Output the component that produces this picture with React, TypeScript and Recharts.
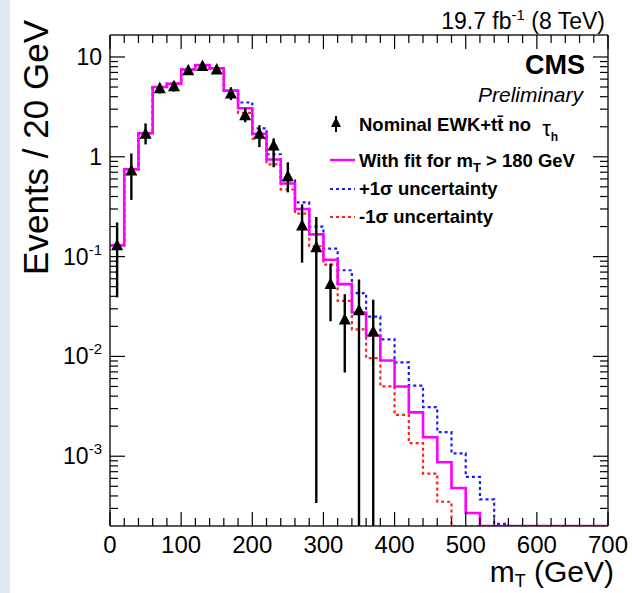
import { ComposedChart, Line, Scatter, XAxis, YAxis, ReferenceLine } from "recharts"

const WIDTH = 632
const HEIGHT = 593
const Y_MIN = 0.0002
const Y_MAX = 16.6
const FONT = "'Liberation Sans', Arial, Helvetica, sans-serif"

// 20 GeV bins, low edges
const binEdges = [
  0, 20, 40, 60, 80, 100, 120, 140, 160, 180, 200, 220, 240, 260, 280, 300, 320, 340,
  360, 380, 400, 420, 440, 460, 480, 500, 520, 540, 560, 580, 600, 620, 640, 660, 680,
]
const fitValues = [
  0.13, 0.75, 1.72, 5.0, 5.4, 7.5, 8.3, 7.7, 4.6, 3.06, 1.7, 0.94, 0.54, 0.3, 0.167, 0.093, 0.053, 0.0275,
  0.0162, 0.0091, 0.005, 0.00275, 0.00155, 0.00087, 0.00048, 0.00027, 0, 0, 0, 0, 0, 0, 0, 0, 0,
]
const upValues = [
  0.13, 0.75, 1.72, 5.0, 5.4, 7.5, 8.3, 7.7, 4.6, 3.5, 1.93, 1.06, 0.58, 0.35, 0.2, 0.12, 0.073, 0.043,
  0.025, 0.0148, 0.0087, 0.0051, 0.0031, 0.00174, 0.00107, 0.00062, 0.00037, 0.00021, 0, 0, 0, 0, 0, 0, 0,
]
const downValues = [
  0.13, 0.75, 1.72, 5.0, 5.4, 7.5, 8.3, 7.7, 4.6, 2.75, 1.52, 0.84, 0.47, 0.27, 0.127, 0.083, 0.036, 0.0187,
  0.0096, 0.005, 0.0026, 0.00135, 0.00067, 0.00035, 0, 0, 0, 0, 0, 0, 0, 0, 0, 0, 0,
]

// nominal points (bin centres) with error bar ends
const pointX = [10, 30, 50, 70, 90, 110, 130, 150, 170, 190, 210, 230, 250, 270, 290, 310, 330, 350, 370]
const pointY = [0.13, 0.73, 1.7, 4.85, 5.1, 7.35, 8.1, 7.5, 4.3, 2.6, 1.7, 1.3, 0.64, 0.205, 0.124, 0.053, 0.0235, 0.029, 0.0178]
const pointLo = [0.039, 0.37, 1.33, 4.3, 4.5, 6.7, 7.4, 6.8, 3.7, 2.22, 1.25, 0.785, 0.44, 0.087, 0.00034, 0.0225, 0.0069, 0, 0]
const pointHi = [0.22, 1.08, 2.16, 5.4, 5.7, 8.0, 8.8, 8.2, 4.97, 3.06, 2.07, 1.53, 0.88, 0.334, 0.25, 0.085, 0.042, 0.059, 0.037]

const xTicks = [
  0, 20, 40, 60, 80, 100, 120, 140, 160, 180, 200, 220, 240, 260, 280, 300, 320, 340, 360,
  380, 400, 420, 440, 460, 480, 500, 520, 540, 560, 580, 600, 620, 640, 660, 680, 700,
]
const xLabels = ["0", "100", "200", "300", "400", "500", "600", "700"]
const yDecades = [0.0001, 0.001, 0.01, 0.1, 1, 10]
const yMinorSteps = [1, 2, 3, 4, 5, 6, 7, 8, 9]

// empty bins sit on the bottom of the frame, like ROOT draws them
const floor = (v: number) => (v > Y_MIN ? v : Y_MIN)

const histData = binEdges.map((x, i) => ({
  x,
  fit: floor(fitValues[i]),
  up: floor(upValues[i]),
  down: floor(downValues[i]),
}))
const last = binEdges.length - 1
histData.push({ x: 700, fit: floor(fitValues[last]), up: floor(upValues[last]), down: floor(downValues[last]) })

const pointData = pointX.map((x, i) => ({ x, y: pointY[i], lo: floor(pointLo[i]), hi: pointHi[i] }))

const yTicks = yDecades
  .flatMap((d) => yMinorSteps.map((s) => +(d * s).toPrecision(3)))
  .filter((v) => v > Y_MIN * 1.01 && v < Y_MAX)

const isDecade = (v: number) => Math.abs(Math.log10(v) - Math.round(Math.log10(v))) < 1e-6

function LeftTick({ x, y, payload }: any) {
  const v = payload.value
  const major = isDecade(v)
  const e = Math.round(Math.log10(v))
  return (
    <g>
      <line x1={x} x2={x + (major ? 15 : 8)} y1={y} y2={y} stroke="#000" strokeWidth={1.2} />
      {major && (
        <text x={x - 8} y={y + 8} textAnchor="end" fontSize={23} fontFamily={FONT} fill="#000">
          {e === 0 ? "1" : "10"}
          {e < 0 && (
            <tspan dy={-10} fontSize={15}>
              {String(e)}
            </tspan>
          )}
        </text>
      )}
    </g>
  )
}

function RightTick({ x, y, payload }: any) {
  const major = isDecade(payload.value)
  return <line x1={x} x2={x - (major ? 15 : 8)} y1={y} y2={y} stroke="#000" strokeWidth={1.2} />
}

function BottomTick({ x, y, payload }: any) {
  const major = payload.value % 100 === 0
  return (
    <g>
      <line x1={x} x2={x} y1={y} y2={y - (major ? 14 : 8)} stroke="#000" strokeWidth={1.2} />
      {major && (
        <text x={x} y={y + 27} textAnchor="middle" fontSize={24} fontFamily={FONT} fill="#000">
          {xLabels[payload.value / 100]}
        </text>
      )}
    </g>
  )
}

function TopTick({ x, y, payload }: any) {
  const major = payload.value % 100 === 0
  return <line x1={x} x2={x} y1={y} y2={y + (major ? 14 : 8)} stroke="#000" strokeWidth={1.2} />
}

function Triangle({ cx, cy }: any) {
  return <polygon points={`${cx - 6},${cy + 5} ${cx + 6},${cy + 5} ${cx},${cy - 6.5}`} fill="#000" />
}

const frame = { stroke: "#222", strokeWidth: 1.5 }

export default function App() {
  return (
    <div style={{ position: "absolute", left: 0, top: 0, width: WIDTH, height: HEIGHT, background: "#fff" }}>
      <ComposedChart width={WIDTH} height={HEIGHT} margin={{ top: 34, right: 23, bottom: 0, left: 0 }}>
        <XAxis
          dataKey="x"
          type="number"
          domain={[0, 700]}
          ticks={xTicks}
          interval={0}
          allowDataOverflow
          height={67}
          tickSize={0}
          tickMargin={0}
          tickLine={false}
          tick={BottomTick}
          axisLine={frame}
        />
        <XAxis
          xAxisId="top"
          dataKey="x"
          orientation="top"
          type="number"
          domain={[0, 700]}
          ticks={xTicks}
          interval={0}
          allowDataOverflow
          height={1}
          tickSize={0}
          tickMargin={0}
          tickLine={false}
          tick={TopTick}
          axisLine={frame}
        />
        <YAxis
          type="number"
          scale="log"
          domain={[Y_MIN, Y_MAX]}
          allowDataOverflow
          ticks={yTicks}
          interval={0}
          width={110}
          tickSize={0}
          tickMargin={0}
          tickLine={false}
          tick={LeftTick}
          axisLine={frame}
        />
        <YAxis
          yAxisId="right"
          orientation="right"
          type="number"
          scale="log"
          domain={[Y_MIN, Y_MAX]}
          allowDataOverflow
          ticks={yTicks}
          interval={0}
          width={1}
          tickSize={0}
          tickMargin={0}
          tickLine={false}
          tick={RightTick}
          axisLine={frame}
        />

        {/* invisible copy so the top and right frame axes have a series */}
        <Line data={histData} dataKey="fit" xAxisId="top" yAxisId="right" stroke="none" strokeWidth={0}
          dot={false} activeDot={false} legendType="none" isAnimationActive={false} />

        <Line data={histData} dataKey="up" type="stepAfter" stroke="#1a1aff" strokeWidth={2.2}
          strokeDasharray="3 3" dot={false} isAnimationActive={false} />
        <Line data={histData} dataKey="down" type="stepAfter" stroke="#ff2020" strokeWidth={2.2}
          strokeDasharray="3 3" dot={false} isAnimationActive={false} />
        <Line data={histData} dataKey="fit" type="stepAfter" stroke="#ff00ff" strokeWidth={2.6}
          dot={false} isAnimationActive={false} />

        {pointData.map((p) => (
          <ReferenceLine
            key={p.x}
            segment={[{ x: p.x, y: p.lo }, { x: p.x, y: p.hi }]}
            stroke="#000"
            strokeWidth={2.4}
            ifOverflow="visible"
          />
        ))}
        <Scatter data={pointData} dataKey="y" shape={Triangle} isAnimationActive={false} />
      </ComposedChart>

      <svg
        width={WIDTH}
        height={HEIGHT}
        style={{ position: "absolute", left: 0, top: 0, pointerEvents: "none" }}
        fontFamily={FONT}
      >
        <rect x={0} y={0} width={10} height={HEIGHT} fill="#e1e7f1" />

        <text x={605} y={29} textAnchor="end" fontSize={23}>
          19.7 fb<tspan dy={-9} fontSize={15}>-1</tspan>
          <tspan dy={9}> (8 TeV)</tspan>
        </text>
        <text x={585} y={74} textAnchor="end" fontSize={27} fontWeight="bold">CMS</text>
        <text x={583} y={102} textAnchor="end" fontSize={21} fontStyle="italic">Preliminary</text>

        {/* legend */}
        <line x1={336} x2={336} y1={116} y2={132} stroke="#000" strokeWidth={2} />
        <polygon points="331,127 341,127 336,117" fill="#000" />
        <text x={359} y={131} fontSize={18.5} fontWeight="bold">
          Nominal EWK+tt{"\u0304"} no
          <tspan dx={11} dy={5} fontSize={22} fontWeight="normal">τ</tspan>
          <tspan dy={5} fontSize={12}>h</tspan>
        </text>
        <line x1={330} x2={355} y1={160} y2={160} stroke="#ff00ff" strokeWidth={2.4} />
        <text x={359} y={167} fontSize={18.5} fontWeight="bold">
          With fit for m<tspan dy={5} fontSize={13}>T</tspan>
          <tspan dy={-5}> &gt; 180 GeV</tspan>
        </text>
        <line x1={330} x2={355} y1={189} y2={189} stroke="#1a1aff" strokeWidth={2.2} strokeDasharray="3 3" />
        <text x={359} y={195} fontSize={18.5} fontWeight="bold">+1σ uncertainty</text>
        <line x1={330} x2={355} y1={217} y2={217} stroke="#ff2020" strokeWidth={2.2} strokeDasharray="3 3" />
        <text x={359} y={223} fontSize={18.5} fontWeight="bold">-1σ uncertainty</text>

        {/* axis titles */}
        <text x={48} y={20} textAnchor="end" fontSize={35} transform="rotate(-90 48 20)">
          Events / 20 GeV
        </text>
        <text x={614} y={582} textAnchor="end" fontSize={30}>
          m<tspan dy={5} fontSize={18}>T</tspan>
          <tspan dy={-5}> (GeV)</tspan>
        </text>
      </svg>
    </div>
  )
}
